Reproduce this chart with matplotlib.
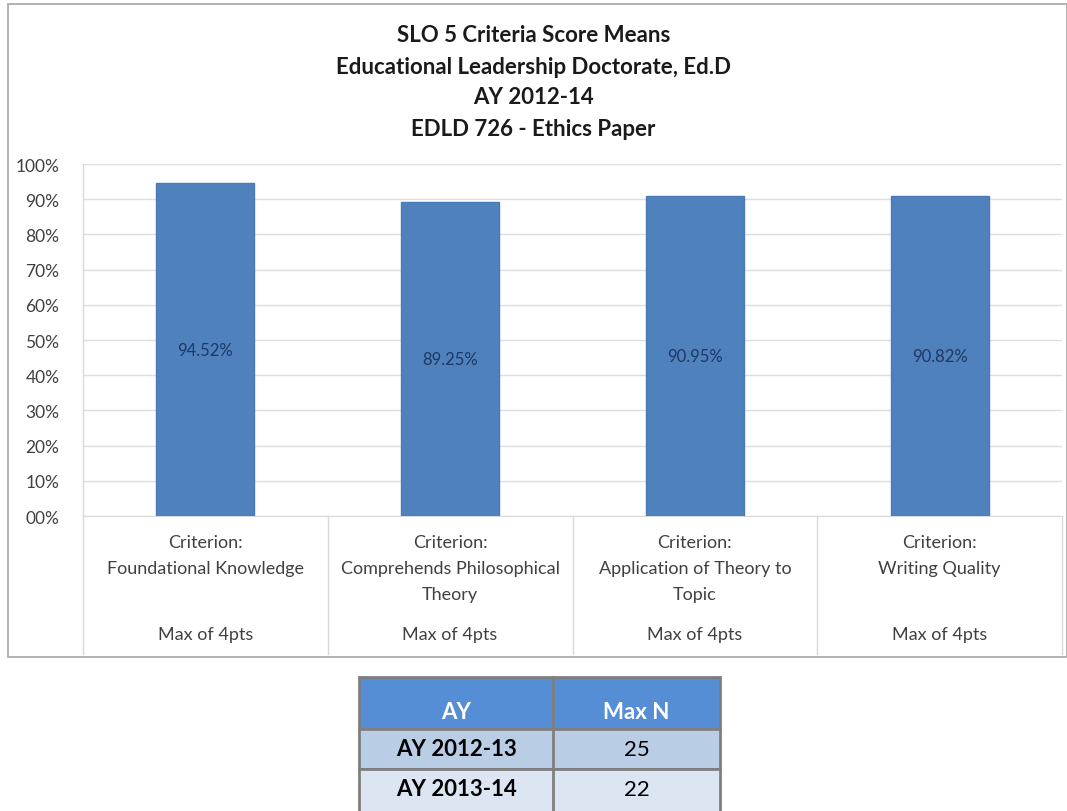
import matplotlib
matplotlib.use('Agg')
import matplotlib.pyplot as plt
from matplotlib.patches import Rectangle
from matplotlib.transforms import blended_transform_factory
import numpy as np

plt.rcParams['font.family'] = ['Lato', 'DejaVu Sans']

# chart data
criteria = ['Foundational Knowledge', 'Comprehends Philosophical\nTheory',
            'Application of Theory to\nTopic', 'Writing Quality']
means = [94.52, 89.25, 90.95, 90.82]
max_label = 'Max of 4pts'
yticks = [0, 10, 20, 30, 40, 50, 60, 70, 80, 90, 100]
ytick_labels = ['00%', '10%', '20%', '30%', '40%', '50%', '60%', '70%', '80%', '90%', '100%']
title_lines = ['SLO 5 Criteria Score Means', 'Educational Leadership Doctorate, Ed.D',
               'AY 2012-14', 'EDLD 726 - Ethics Paper']

# table data
table_header = ['AY', 'Max N']
table_years = ['AY 2012-13', 'AY 2013-14']
table_n = [25, 22]

W, H = 1067, 812
fig = plt.figure(figsize=(W / 100, H / 100), dpi=100)
fig.patch.set_facecolor('white')

# chart frame
frame = Rectangle((8 / W, 1 - 658 / H), (W - 8) / W, (658 - 5) / H, transform=fig.transFigure,
                  fill=False, edgecolor='#A6A6A6', lw=1.2)
fig.patches.append(frame)

ax = fig.add_axes([83 / W, 1 - 517 / H, 979 / W, 352 / H])
x = np.arange(len(means))
ax.bar(x, means, width=0.4, color='#4F81BD', edgecolor='#4A7AB8', zorder=3)
ax.set_xlim(-0.5, len(means) - 0.5)
ax.set_ylim(0, 100)
ax.set_yticks(yticks)
ax.set_yticklabels(ytick_labels, fontsize=12.5, color='#404040')
ax.tick_params(axis='y', length=0, pad=17)
ax.set_xticks([])
ax.grid(axis='y', color='#DDDDDD', lw=1, zorder=0)
for s in ['top', 'right', 'left']:
    ax.spines[s].set_visible(False)
ax.spines['bottom'].set_color('#D9D9D9')

for xi, v in zip(x, means):
    ax.text(xi, v / 2, '%.2f%%' % v, ha='center', va='center', fontsize=12,
            color='#1F3864', zorder=4)

# category labels below the axis
trans = blended_transform_factory(ax.transData, ax.transAxes)
for xi, name in zip(x, criteria):
    ax.text(xi, -0.052, 'Criterion:\n' + name, ha='center', va='top', fontsize=13,
            color='#404040', transform=trans, linespacing=1.75)
    ax.text(xi, -0.335, max_label, ha='center', va='center', fontsize=13,
            color='#404040', transform=trans)
for b in np.arange(-0.5, len(means), 1.0):
    ax.plot([b, b], [0, -0.392], color='#D9D9D9', lw=1, transform=trans, clip_on=False)
ax.plot([-0.5, -0.5], [0, 1], color='#D9D9D9', lw=1, transform=trans, clip_on=False)

# title
for i, line in enumerate(title_lines):
    fig.text(0.5, 1 - (36 + i * 31) / H, line, ha='center', va='center', fontsize=16,
             fontweight='bold', color='#1a1a1a')

# table below chart
tx0, tx1, ty0 = 359, 720, 678
tax = fig.add_axes([tx0 / W, 0, (tx1 - tx0) / W, (H - ty0) / H])
tax.set_xlim(0, tx1 - tx0)
tax.set_ylim(H - ty0, 0)
tax.axis('off')
col_split = 553 - tx0
row_tops = [0, 52, 92]
row_h = [52, 40, 44]
row_colors = ['#558ED5', '#B9CDE5', '#DCE6F2']
for r in range(3):
    tax.add_patch(Rectangle((0, row_tops[r]), tx1 - tx0, row_h[r], facecolor=row_colors[r],
                            edgecolor='#7F7F7F', lw=2, clip_on=False))
tax.plot([col_split, col_split], [0, H - ty0], color='#7F7F7F', lw=2, clip_on=False)

tax.text(col_split / 2, 35, table_header[0], ha='center', va='center', fontsize=16,
         fontweight='bold', color='white')
tax.text((col_split + tx1 - tx0) / 2, 35, table_header[1], ha='center', va='center',
         fontsize=16, fontweight='bold', color='white')
for r, (yr, n) in enumerate(zip(table_years, table_n)):
    yc = row_tops[r + 1] + 20
    tax.text(col_split / 2, yc, yr, ha='center', va='center', fontsize=16,
             fontweight='bold', color='black')
    tax.text((col_split + tx1 - tx0) / 2, yc, str(n), ha='center', va='center',
             fontsize=16, color='black')

plt.savefig('out.png', dpi=100)
